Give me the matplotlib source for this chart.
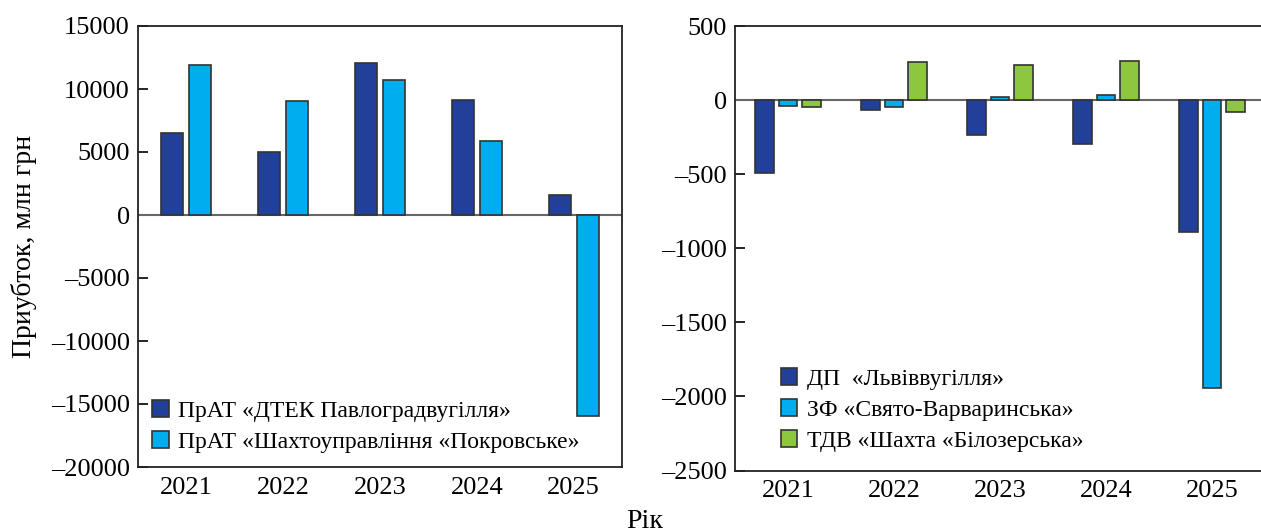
import matplotlib
matplotlib.use("Agg")
import matplotlib.pyplot as plt
import numpy as np

plt.rcParams['font.family'] = ['Liberation Serif', 'DejaVu Serif']

# data
years = ['2021', '2022', '2023', '2024', '2025']

left_names = ['ПрАТ «ДТЕК Павлоградвугілля»', 'ПрАТ «Шахтоуправління «Покровське»']
pavlograd = [6500, 5000, 12050, 9100, 1600]
pokrovske = [11900, 9050, 10750, 5900, -15950]

right_names = ['ДП  «Львіввугілля»', 'ЗФ «Свято-Варваринська»', 'ТДВ «Шахта «Білозерська»']
lviv = [-495, -70, -237, -294, -891]
varvar = [-40, -45, 18, 35, -1945]
bilozer = [-50, 255, 240, 262, -80]

dark_blue = '#21409A'
light_blue = '#00AEEF'
green = '#8DC63F'
edge = '#333333'

fig = plt.figure(figsize=(12.61, 5.31), dpi=100)
ax1 = fig.add_axes([138/1261, 64/531, 484/1261, 441/531])
ax2 = fig.add_axes([735/1261, 60.5/531, 530/1261, 444.5/531])

x = np.arange(len(years))

# left chart
w1 = 0.227
step1 = 0.29
ax1.bar(x - step1/2, pavlograd, w1, color=dark_blue, edgecolor=edge, linewidth=1.2, label=left_names[0], zorder=3)
ax1.bar(x + step1/2, pokrovske, w1, color=light_blue, edgecolor=edge, linewidth=1.2, label=left_names[1], zorder=3)
ax1.axhline(0, color='#666666', linewidth=1.5, zorder=2)
ax1.set_xlim(-0.5, 4.5)
ax1.set_ylim(-20000, 15000)
ax1.set_yticks(np.arange(-20000, 15001, 5000))
ax1.set_yticklabels([str(v).replace('-', '–') for v in range(-20000, 15001, 5000)])
ax1.set_xticks(x)
ax1.set_xticklabels(years)
ax1.tick_params(axis='y', direction='in', length=7, width=1.2, labelsize=19, pad=6)
ax1.tick_params(axis='x', length=0, labelsize=19, pad=7)
for s in ax1.spines.values():
    s.set_linewidth(1.3)
    s.set_color('#222222')
ax1.set_ylabel('Приубток, млн грн', fontsize=20, labelpad=10)
ax1.legend(loc='lower left', bbox_to_anchor=(0.0, 0.0), frameon=False, fontsize=17,
           handlelength=0.7, handleheight=0.7, handletextpad=0.4, labelspacing=0.4,
           borderaxespad=0.2)

# right chart
w2 = 0.176
step2 = 0.222
ax2.bar(x - step2, lviv, w2, color=dark_blue, edgecolor=edge, linewidth=1.2, label=right_names[0], zorder=3)
ax2.bar(x, varvar, w2, color=light_blue, edgecolor=edge, linewidth=1.2, label=right_names[1], zorder=3)
ax2.bar(x + step2, bilozer, w2, color=green, edgecolor=edge, linewidth=1.2, label=right_names[2], zorder=3)
ax2.axhline(0, color='#666666', linewidth=1.5, zorder=2)
ax2.set_xlim(-0.5, 4.5)
ax2.set_ylim(-2500, 500)
ax2.set_yticks(np.arange(-2500, 501, 500))
ax2.set_yticklabels([str(v).replace('-', '–') for v in range(-2500, 501, 500)])
ax2.set_xticks(x)
ax2.set_xticklabels(years)
ax2.tick_params(axis='y', direction='in', length=7, width=1.2, labelsize=19, pad=6)
ax2.tick_params(axis='x', length=0, labelsize=19, pad=7)
for s in ax2.spines.values():
    s.set_linewidth(1.3)
    s.set_color('#222222')
ax2.legend(loc='lower left', bbox_to_anchor=(0.06, 0.01), frameon=False, fontsize=17,
           handlelength=0.7, handleheight=0.7, handletextpad=0.4, labelspacing=0.4,
           borderaxespad=0.2)

fig.text(645/1261, 1 - 521/531, 'Рік', fontsize=20, ha='center', va='center')

fig.savefig('out.png', dpi=100)
